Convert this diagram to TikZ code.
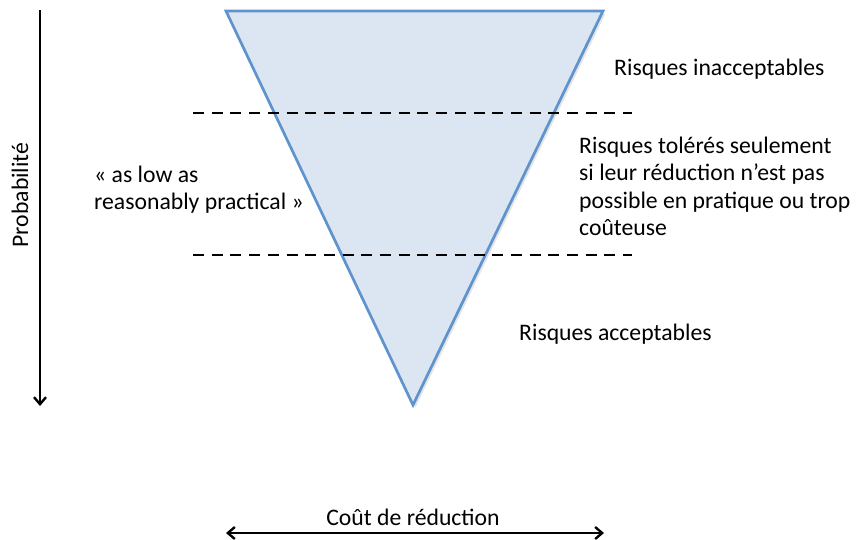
\documentclass[tikz,border=0pt]{standalone}
\usepackage{fontspec}
\setmainfont{Carlito}
\usetikzlibrary{arrows.meta,calc}
\definecolor{trifill}{HTML}{DCE6F2}
\definecolor{triedge}{HTML}{5F93CD}
\begin{document}
\begin{tikzpicture}[x=1pt,y=-1pt,
  lbl/.style={inner sep=0pt, font=\fontsize{23.7}{27.2}\selectfont, align=left},
  dashline/.style={black, line width=2.8pt, dash pattern=on 11pt off 7.7pt},
  axis/.style={black, line width=2.6pt, -{Straight Barb[length=7pt,width=12pt,line width=2.4pt]}},
  axis2/.style={black, line width=2.6pt, {Straight Barb[length=7pt,width=12pt,line width=2.4pt]}-{Straight Barb[length=7pt,width=12pt,line width=2.4pt]}}]
\useasboundingbox (0,0) rectangle (859,539);
% triangle
\coordinate (tl) at (226,11);
\coordinate (tr) at (603,11);
\coordinate (bt) at (413,405);
\fill[gray!60, opacity=0.35] ($(tl)+(2.5,2.5)$) -- ($(tr)+(2.5,2.5)$) -- ($(bt)+(2.5,2.5)$) -- cycle;
\draw[triedge, fill=trifill, line width=2.7pt, line join=miter] (tl) -- (tr) -- (bt) -- cycle;
% dashed lines
\coordinate (d1a) at (193,113);
\coordinate (d1b) at (632,113);
\coordinate (d2a) at (193,255);
\coordinate (d2b) at (632,255);
\draw[dashline] (d1a) -- (d1b);
\draw[dashline] (d2a) -- (d2b);
% vertical axis
\coordinate (va) at (40,10);
\coordinate (vb) at (40,406);
\draw[axis] (va) -- (vb);
\node[lbl, rotate=90] (prob) at (20,195) {Probabilité};
% horizontal axis
\coordinate (ha) at (226,533);
\coordinate (hb) at (604,533);
\draw[axis2] (ha) -- (hb);
\node[lbl] (cout) at (413,517) {Coût de réduction};
% labels
\node[lbl, anchor=west] (inacc) at (614,69) {Risques inacceptables};
\node[lbl, anchor=north west] (toler) at (579,137) {Risques tolérés seulement\\si leur réduction n’est pas\\possible en pratique ou trop\\coûteuse};
\node[lbl, anchor=north west] (alarp) at (94,166) {« as low as\\reasonably practical »};
\node[lbl, anchor=west] (acc) at (519,334) {Risques acceptables};
\end{tikzpicture}
\end{document}
